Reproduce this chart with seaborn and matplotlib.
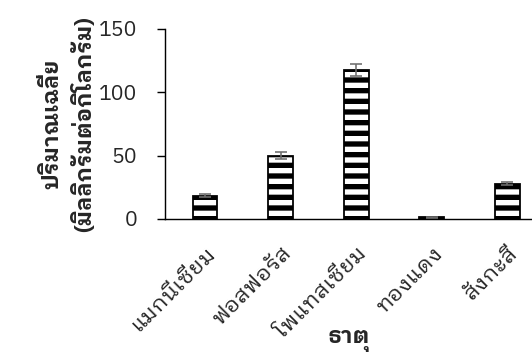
import numpy as np
import pandas as pd
import matplotlib
matplotlib.use('Agg')
import matplotlib.pyplot as plt
import seaborn as sns
from matplotlib import font_manager
from matplotlib.ft2font import FT2Font

# ==============================
# 1. Data
# ==============================
elements = ["แมกนีเซียม", "ฟอสฟอรัส", "โพแทสเซียม", "ทองแดง", "สังกะสี"]
means = [18.5, 50.0, 117.5, 1.2, 28.0]
errors = [1.5, 2.8, 4.5, 0.3, 1.5]
y_ticks = [0, 50, 100, 150]

df = pd.DataFrame({"element": elements, "mean": means})

# ==============================
# 2. Find a font that has Thai glyphs (looped one if there is)
# ==============================
thai_fonts = []
for f in font_manager.fontManager.ttflist:
    try:
        if FT2Font(f.fname).get_char_index(ord("ก")):
            thai_fonts.append(f.name)
    except Exception:
        pass
thai_fonts = sorted(set(thai_fonts), key=lambda n: (("Looped" not in n), ("Thai" not in n), n))
thai_font = thai_fonts[0] if thai_fonts else None

sns.set_style("white")
plt.rcParams['font.family'] = [thai_font, "DejaVu Sans"] if thai_font else ["DejaVu Sans"]
plt.rcParams['hatch.linewidth'] = 6
plt.rcParams['hatch.color'] = 'black'

# ==============================
# 3. Plot
# ==============================
DPI = 64
fig = plt.figure(figsize=(532 / DPI, 356 / DPI), dpi=DPI)
ax = fig.add_axes([165 / 532, 1 - 219 / 356, 1 - 165 / 532, (219 - 29) / 356])

sns.barplot(data=df, x="element", y="mean", color="white", edgecolor="black",
            linewidth=2, width=0.33, ax=ax, zorder=2)
for p in ax.patches:
    p.set_hatch("-")

ax.errorbar(np.arange(len(elements)), means, yerr=errors, fmt="none",
            ecolor="#6e6e6e", elinewidth=1.8, capsize=7, capthick=1.8, zorder=3)

ax.set_ylim(0, 150)
ax.set_yticks(y_ticks)
ax.set_xlim(-0.53, 4.33)

for s in ["top", "right"]:
    ax.spines[s].set_visible(False)
for s in ["left", "bottom"]:
    ax.spines[s].set_color("black")
    ax.spines[s].set_linewidth(1.6)

ax.tick_params(axis="y", length=9, width=1.6, color="black", pad=22, labelsize=24, left=True)
ax.tick_params(axis="x", length=0, pad=26, labelsize=25)
plt.setp(ax.get_xticklabels(), rotation=45, ha="right", rotation_mode="anchor")

ax.set_xlabel("ธาตุ", fontsize=25, fontweight="bold", labelpad=-14)
ax.set_ylabel("ปริมาณเฉลี่ย\n(มิลลิกรัมต่อกิโลกรัม)", fontsize=25,
              fontweight="bold", labelpad=4, linespacing=1.45)

fig.savefig("out.png", dpi=DPI)
